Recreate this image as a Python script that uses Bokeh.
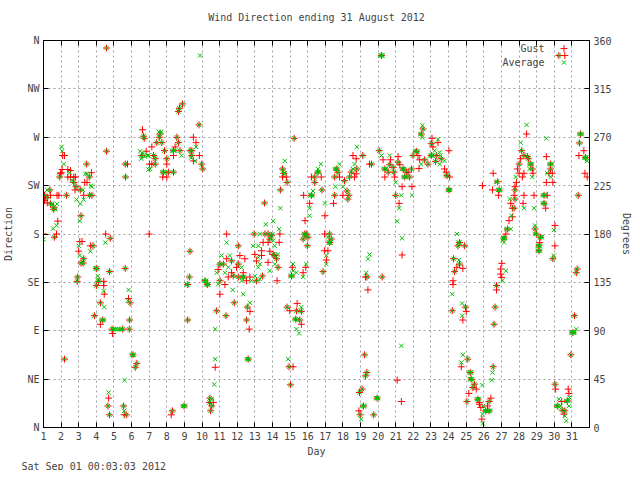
from bokeh.plotting import figure
from bokeh.models import LinearAxis, FixedTicker, Range1d, ColumnDataSource, Label, Title
from bokeh.embed import file_html
from bokeh.resources import INLINE

# ---- data: [day, direction in degrees] ----
# readings where gust and average overlap
both_pts = [
    [4.58, 353], [6.68, 271], [6.72, 269], [6.58, 253], [4.58, 257], [3.45, 245], [5.64, 245], [5.66, 233],
    [1.92, 233], [2.72, 228], [2.85, 224], [3.60, 233], [3.62, 216], [3.75, 216], [3.09, 221], [1.36, 221],
    [1.06, 216], [1.21, 214], [2.30, 216], [1.40, 208], [1.58, 205], [1.58, 203], [3.13, 197], [1.62, 177],
    [4.79, 176], [3.81, 169], [3.28, 157], [3.13, 153], [3.25, 153], [4.0, 148], [5.64, 148], [4.75, 145],
    [2.94, 140], [2.91, 136], [4.13, 136], [4.0, 132], [5.92, 116], [4.23, 116], [3.89, 104], [4.36, 100],
    [4.89, 91.5], [5.5, 91.5], [5.89, 100], [5.87, 91.5], [2.19, 63.6], [6.08, 67.6], [6.30, 59.6], [6.21, 56],
    [4.66, 20], [5.55, 20], [5.70, 11.8], [4.75, 11.8],
    [8.89, 301], [8.72, 297], [8.66, 294], [9.83, 281.5], [7.62, 273], [7.58, 270], [7.43, 265], [7.72, 265],
    [8.57, 270], [8.66, 265], [9.42, 257.5], [9.32, 257.5], [9.42, 253], [9.98, 245], [10.04, 240.5], [7.87, 257.5],
    [8.38, 257.5], [8.75, 257.5], [8.0, 250], [7.25, 253], [7.34, 250], [7.34, 245], [7.81, 237.5], [8.09, 237.5],
    [8.38, 237.5], [12.96, 180], [12.06, 169], [9.32, 164], [11.68, 155], [12.06, 152], [11.02, 152], [11.21, 152],
    [11.77, 141], [12.06, 140], [12.34, 140], [11.02, 136.5], [13.09, 136.5], [9.28, 140], [9.19, 133], [10.17, 136.5],
    [10.30, 133], [11.83, 116], [12.57, 112], [10.83, 108.6], [11.36, 104], [12.53, 100], [9.19, 100], [12.62, 63.6],
    [10.45, 27.3], [10.42, 23.3], [10.55, 20], [10.49, 15.5], [8.98, 20], [8.32, 15.5],
    [15.23, 269], [19.13, 253], [18.79, 240.5], [18.47, 237.5], [18.38, 233], [18.09, 229.6], [18.23, 220], [18.34, 216],
    [18.28, 212.5], [17.72, 237.5], [17.62, 240.5], [17.53, 233], [17.53, 216], [14.57, 240.5], [14.64, 236.5], [14.83, 228],
    [16.58, 237.5], [16.40, 233], [16.40, 228], [16.81, 221], [16.21, 216], [14.45, 221], [13.55, 208.8], [13.57, 180],
    [13.75, 180], [13.94, 178.4], [13.85, 175.3], [14.04, 161], [14.13, 160], [14.23, 157], [14.32, 149], [13.43, 141],
    [15.83, 180], [16.02, 177], [15.92, 180], [15.98, 169], [15.74, 175.3], [15.08, 141], [17.25, 180], [17.34, 175.3],
    [17.25, 172], [16.87, 145], [19.36, 140], [14.83, 112], [15.36, 108.6], [15.64, 108], [15.32, 100.8], [15.55, 100],
    [14.94, 56.5], [15.02, 39.7], [19.23, 67.6], [19.36, 51.2], [19.28, 48], [19.09, 35.7], [18.94, 32.6], [19.17, 20],
    [18.98, 11.8],
    [20.19, 346], [22.55, 277.7], [22.45, 273], [23.02, 264], [23.02, 253], [23.30, 253], [23.58, 250], [23.26, 247.6],
    [23.91, 234.3], [24.02, 221], [22.83, 245], [22.64, 249], [22.17, 256.9], [21.98, 253], [20.06, 257.5], [21.13, 246.8],
    [20.66, 244.5], [20.38, 240.5], [20.57, 237.5], [20.85, 242], [20.89, 237.5], [21.42, 240.5], [21.60, 237.5], [21.51, 233],
    [21.79, 233], [21.89, 240.5], [21.0, 216], [19.62, 245], [20.23, 140], [24.62, 172], [24.53, 169], [24.91, 169],
    [24.28, 157], [24.34, 145], [24.62, 152], [24.21, 108.6], [24.96, 112], [25.09, 63.6], [25.23, 51.2], [25.28, 45],
    [25.47, 40.3], [25.38, 37.2], [25.04, 24.2], [25.66, 26.4], [19.94, 27.3], [19.75, 11.8],
    [30.26, 346], [28.15, 257.5], [28.28, 253], [28.47, 252], [28.53, 250], [28.66, 245], [28.75, 240.5], [28.0, 245],
    [27.77, 221], [27.77, 212.5], [29.79, 245], [29.79, 240.5], [31.49, 273], [31.43, 264.7], [31.77, 251], [31.36, 216],
    [26.77, 228.6], [26.87, 221], [29.42, 216], [29.42, 208.5], [27.72, 204], [27.34, 184.6], [27.15, 176.3], [26.72, 132],
    [26.64, 112], [26.58, 96], [28.91, 184.6], [28.98, 180], [29.23, 177], [29.13, 169], [29.13, 164.4], [29.92, 157],
    [31.30, 147.4], [31.25, 144], [31.15, 104], [31.06, 88.4], [30.94, 67.6], [26.53, 56.5], [26.30, 24.2], [26.11, 15.5],
    [26.30, 15.5], [30.04, 40.3], [30.17, 20], [30.45, 16.1], [30.60, 15.5], [30.74, 24.8],
]

# gust-only readings
gust_pts = [
    [6.62, 277], [6.83, 257], [7.02, 245], [5.77, 245], [2.09, 253], [2.19, 253], [2.06, 240], [2.0, 237],
    [1.96, 236], [2.38, 240], [2.53, 239], [2.38, 233], [2.53, 233], [2.72, 233], [2.81, 233], [2.79, 221],
    [3.72, 237], [3.47, 228], [3.34, 228], [3.28, 216], [1.40, 216], [1.77, 216], [1.87, 216], [1.21, 209],
    [1.11, 214], [1.06, 211], [1.81, 192], [1.74, 180], [1.0, 180], [4.53, 180], [7.0, 180], [3.06, 173],
    [3.19, 173], [3.0, 164], [3.66, 169], [4.42, 136], [4.42, 132], [4.45, 124], [5.83, 120], [4.23, 96],
    [4.92, 87.5], [4.70, 27.3], [5.58, 11.8],
    [8.47, 261], [9.51, 270], [9.66, 265], [9.85, 253], [9.51, 248], [8.38, 253], [8.0, 245], [7.15, 261],
    [7.15, 245], [7.77, 233], [8.0, 233], [11.40, 180], [12.15, 160], [12.43, 157], [11.40, 157], [11.96, 149],
    [10.92, 147], [11.68, 144], [12.34, 144], [11.49, 140], [12.72, 140], [11.30, 133], [12.53, 136.5], [13.0, 161],
    [13.09, 155], [11.02, 124], [12.72, 108], [12.68, 91.5], [10.75, 56], [10.64, 23.3], [8.25, 11.8],
    [18.57, 253], [18.75, 250], [18.75, 236], [18.66, 233], [18.0, 216], [17.81, 233], [19.51, 245], [14.57, 233],
    [14.79, 233], [16.21, 233], [16.77, 233], [15.77, 216], [16.11, 208.5], [17.47, 208.5], [16.98, 197], [15.85, 192.4],
    [13.47, 172.2], [13.75, 172.2], [14.42, 180], [14.38, 172.2], [13.38, 164.4], [13.38, 160], [13.85, 164], [13.75, 153.6],
    [14.26, 136.5], [16.96, 180], [16.96, 164.4], [17.15, 164.4], [17.06, 155.8], [19.28, 140], [19.42, 128], [14.98, 108.6],
    [15.40, 115.4], [15.64, 96], [15.17, 56.5], [18.91, 15.5], [15.13, 149], [15.74, 144], [15.89, 149],
    [23.06, 269], [23.40, 265], [23.11, 261], [24.02, 257.5], [23.77, 240.5], [23.87, 237.5], [24.06, 233], [22.26, 253],
    [22.36, 249], [22.32, 241], [20.28, 249], [20.70, 249], [21.13, 252], [21.23, 244.5], [20.38, 233], [20.94, 233],
    [21.70, 237.5], [21.36, 224], [21.92, 224], [21.19, 208.5], [21.36, 160.5], [24.47, 149], [24.81, 148], [24.25, 136.5],
    [24.25, 133], [25.0, 108], [24.81, 100], [24.72, 56.5], [25.15, 31.7], [25.57, 35.7], [25.75, 21.7], [21.08, 44],
    [21.32, 24.2],
    [30.60, 346], [28.43, 273], [28.09, 250], [28.79, 236.5], [27.91, 240.5], [28.0, 236.5], [28.28, 236.5], [28.19, 233],
    [27.85, 228], [27.77, 224], [27.72, 216], [29.55, 252], [29.70, 236.5], [29.89, 236.5], [29.92, 228], [29.55, 228],
    [31.68, 257.5], [31.40, 253], [31.74, 236.5], [31.87, 233], [26.53, 236.5], [26.83, 216], [26.49, 221], [25.92, 225],
    [28.85, 216], [28.28, 216], [28.23, 208.5], [29.60, 216], [29.51, 204], [27.53, 208.5], [27.62, 204], [27.43, 192.4],
    [27.62, 196], [27.25, 180], [27.02, 152.7], [26.96, 147.4], [26.96, 142.7], [27.02, 139.6], [26.72, 128], [29.17, 172],
    [30.04, 188], [30.04, 169], [26.40, 27.3], [26.21, 20], [25.89, 7.8], [25.83, 18.6], [25.74, 23.3], [30.08, 35.7],
    [30.42, 24.2], [30.79, 35.7], [30.83, 31.7], [30.55, 12.4],
]

# average-only readings
avg_pts = [
    [6.49, 257], [6.55, 250], [6.65, 255], [6.75, 252], [6.9, 253], [6.96, 253], [6.96, 240], [2.02, 261],
    [2.06, 257], [2.15, 245], [2.49, 237], [2.62, 230], [3.38, 236], [3.47, 236], [3.75, 224], [3.70, 225],
    [3.23, 221], [2.87, 212], [3.09, 208], [3.28, 212], [1.21, 221], [1.49, 208], [1.77, 208], [1.68, 203],
    [3.06, 192], [1.74, 188], [1.55, 185], [1.0, 175], [4.51, 172], [3.0, 169], [3.06, 160], [3.66, 164],
    [3.95, 148], [4.05, 148], [4.08, 141], [4.08, 137], [4.18, 137], [4.42, 127], [5.83, 128], [5.79, 118],
    [4.45, 112], [4.30, 100], [4.42, 100], [5.0, 91.5], [5.1, 91.5], [5.2, 91.5], [5.3, 91.5], [5.4, 91.5],
    [6.02, 67.6], [6.12, 67.6], [5.60, 44], [4.70, 32.6], [5.58, 15.5],
    [7.55, 275], [7.68, 275], [8.30, 257.5], [8.46, 257.5], [9.38, 251], [7.75, 237.5], [7.88, 237.5], [10.10, 136.5],
    [10.24, 136.5], [10.24, 133], [10.36, 133], [9.12, 133], [11.0, 152], [12.28, 140], [12.40, 140], [12.56, 63.6],
    [12.68, 63.6], [8.92, 20], [9.06, 20],
    [9.89, 346], [9.66, 261], [9.60, 248], [8.85, 253], [7.06, 240.5], [11.40, 172], [12.9, 169], [13.2, 169],
    [11.11, 160], [11.58, 160], [11.49, 149], [12.25, 149], [10.83, 144], [11.30, 144], [12.25, 136.5], [12.81, 136.5],
    [10.92, 133.4], [13.0, 141], [13.19, 158], [13.19, 149], [11.74, 128], [12.34, 124], [12.72, 116], [10.75, 91.5],
    [10.75, 63.6], [10.70, 40], [10.55, 26.4],
    [14.60, 238], [14.70, 236.5], [16.52, 237.5], [16.64, 237.5], [17.56, 240.5], [17.68, 240.5], [16.15, 216], [16.27, 216],
    [13.90, 178], [14.0, 180], [15.78, 180], [15.88, 178], [17.2, 172], [17.3, 172], [15.02, 141], [15.14, 141],
    [15.26, 100.8], [15.40, 100], [19.11, 20], [19.23, 20],
    [18.79, 261], [18.66, 245], [18.57, 240.5], [18.0, 224], [17.81, 245], [17.58, 224], [14.70, 248], [16.74, 245],
    [16.58, 240.5], [16.30, 220], [16.98, 208.5], [16.11, 204], [16.11, 197], [14.45, 204], [13.62, 189], [14.04, 192],
    [14.38, 184.6], [13.28, 180], [14.04, 173.8], [14.13, 169], [14.32, 161], [14.13, 152], [13.85, 145.8], [13.28, 152],
    [13.28, 138], [15.17, 152], [15.36, 144], [15.17, 145.8], [15.92, 152], [15.74, 140], [17.15, 177], [17.06, 160],
    [17.06, 152], [19.51, 161], [19.42, 157], [19.32, 144], [15.64, 112], [15.36, 91.5], [15.51, 87.5], [14.89, 63.6],
    [19.04, 7.8],
    [20.12, 346], [20.26, 346], [22.40, 273], [22.11, 256.9], [22.23, 256.9], [22.96, 253], [23.08, 253], [23.85, 234.3],
    [23.97, 221], [24.08, 221], [20.32, 240.5], [20.44, 240.5], [21.36, 240.5], [21.48, 240.5], [21.45, 233], [21.57, 233],
    [24.56, 172], [25.17, 51.2], [25.28, 51.2], [25.22, 45], [25.34, 45], [25.60, 26.4], [25.72, 26.4], [19.88, 27.3],
    [20.0, 27.3],
    [22.51, 281], [22.51, 270], [23.40, 268], [23.21, 257.5], [23.49, 256], [23.53, 253], [23.77, 248], [23.49, 245],
    [22.45, 245], [21.0, 228], [21.32, 216], [21.19, 204], [21.92, 216], [20.19, 253], [20.66, 253], [21.08, 191.8],
    [21.36, 176], [24.47, 180], [24.58, 155.8], [24.21, 124], [24.77, 115.4], [24.77, 104], [21.32, 76], [24.81, 67.6],
    [24.72, 60.5],
    [31.43, 273], [31.55, 273], [31.71, 251], [31.83, 251], [28.60, 245], [28.72, 245], [29.73, 245], [29.85, 245],
    [26.71, 228.6], [26.81, 221], [26.93, 221], [29.36, 216], [29.48, 216], [29.36, 208.5], [29.48, 208.5], [27.28, 184.6],
    [27.09, 176.3], [27.21, 176.3], [28.92, 180], [29.17, 177], [29.29, 177], [29.07, 169], [29.19, 169], [29.07, 164.4],
    [29.19, 164.4], [30.96, 88.4], [31.02, 88.4], [31.10, 88.4], [31.16, 88.4], [26.05, 15.5], [26.24, 15.5], [26.36, 15.5],
    [30.11, 20], [30.23, 20], [30.68, 24.8], [30.80, 24.8],
    [28.43, 281.5], [28.09, 265], [28.60, 240.5], [28.75, 233], [27.81, 233], [29.55, 269], [29.60, 236.5], [29.79, 233],
    [31.87, 248], [28.28, 204], [28.85, 204], [27.47, 212.5], [27.57, 197], [27.53, 184.6], [27.06, 173.8], [27.15, 172.2],
    [27.25, 145.8], [27.06, 136.5], [28.91, 188], [29.98, 183.7], [29.98, 160], [31.25, 91.5], [26.49, 51.2], [26.45, 44],
    [25.92, 39.4], [25.92, 12.4], [25.96, 20], [30.26, 26.4], [30.36, 20], [30.60, 10.9], [30.68, 6.2], [30.87, 27.9],
    [30.83, 20], [25.95, 3.7],
]

day_ticks = list(range(1, 32))
dir_ticks = [0, 45, 90, 135, 180, 225, 270, 315, 360]
dir_labels = ["N", "NE", "E", "SE", "S", "SW", "W", "NW", "N"]
key_labels = ["Gust", "Average"]
footer_text = "Sat Sep 01 00:03:03 2012"

gust = both_pts + gust_pts
avg = both_pts + avg_pts
gust_src = ColumnDataSource(dict(day=[d for d, _ in gust], deg=[v for _, v in gust]))
avg_src = ColumnDataSource(dict(day=[d for d, _ in avg], deg=[v for _, v in avg]))

FONT = "DejaVu Sans Mono"
FS = "10px"

p = figure(frame_width=546, frame_height=387, x_range=Range1d(1, 32), y_range=Range1d(0, 360),
           output_backend="svg", toolbar_location=None,
           min_border_left=0, min_border_right=0, min_border_top=0, min_border_bottom=0)
p.title.text = "Wind Direction ending 31 August 2012"
p.title.text_font = FONT
p.title.text_font_size = FS
p.title.text_font_style = "normal"
p.title.align = "center"
p.title.standoff = 19
p.title.offset = 9
p.outline_line_color = "black"
p.outline_line_width = 1
p.background_fill_color = "white"
p.border_fill_color = "white"

def style_axis(ax, label):
    ax.axis_label = label
    ax.axis_label_text_font = FONT
    ax.axis_label_text_font_size = FS
    ax.axis_label_text_font_style = "normal"
    ax.major_label_text_font = FONT
    ax.major_label_text_font_size = FS
    ax.major_tick_in = 5
    ax.major_tick_out = 0
    ax.minor_tick_in = 0
    ax.minor_tick_out = 0
    ax.axis_line_color = "black"
    ax.major_tick_line_color = "black"
    ax.major_label_standoff = 4
    ax.axis_label_standoff = 6

xax = p.xaxis[0]
xax.ticker = FixedTicker(ticks=day_ticks)
style_axis(xax, "Day")
xax.major_label_standoff = 4
xax.axis_label_standoff = 3

yax = p.yaxis[0]
yax.ticker = FixedTicker(ticks=dir_ticks)
yax.major_label_overrides = {t: l for t, l in zip(dir_ticks, dir_labels)}
style_axis(yax, "Direction")
yax.axis_label_standoff = 10
yax.major_label_orientation = "horizontal"

rax = LinearAxis(ticker=FixedTicker(ticks=dir_ticks))
style_axis(rax, "Degrees")
p.add_layout(rax, "right")

# top border ticks (mirror of the day ticks, no labels)
tax = LinearAxis(ticker=FixedTicker(ticks=day_ticks))
style_axis(tax, None)
tax.major_label_overrides = {d: "" for d in day_ticks}
tax.major_label_standoff = 0
p.add_layout(tax, "above")

# spacer between the top border and the title (ticks are effectively invisible)
sax = LinearAxis(ticker=FixedTicker(ticks=day_ticks))
sax.axis_label = None
sax.major_label_overrides = {d: "" for d in day_ticks}
sax.major_label_standoff = 0
sax.major_tick_in = 0
sax.major_tick_out = 8
sax.minor_tick_in = 0
sax.minor_tick_out = 0
sax.axis_line_alpha = 0
sax.major_tick_line_color = "white"
sax.major_tick_line_alpha = 0.01
p.add_layout(sax, "above")

p.xgrid.ticker = FixedTicker(ticks=day_ticks)
p.ygrid.ticker = FixedTicker(ticks=dir_ticks)
for g in (p.xgrid, p.ygrid):
    g.grid_line_color = "#a0a0a0"
    g.grid_line_dash = "2 3"
    g.grid_line_width = 1

p.scatter("day", "deg", source=gust_src, marker="cross", size=7, line_color="#ff0000", line_width=1)
p.scatter("day", "deg", source=avg_src, marker="x", size=6, line_color="#00c000", line_width=1)

# timestamp under the plot
footer = Title(text=footer_text, align="left", text_font=FONT, text_font_size=FS,
               text_font_style="normal", offset=-22, standoff=-2)
p.add_layout(footer, "below")

# gnuplot-style key
p.add_layout(Label(x=29.45, y=352.5, text=key_labels[0], text_font=FONT, text_font_size=FS,
                   text_align="right", text_baseline="middle"))
p.add_layout(Label(x=29.45, y=339.5, text=key_labels[1], text_font=FONT, text_font_size=FS,
                   text_align="right", text_baseline="middle"))
p.scatter(x=[30.55], y=[352.5], marker="cross", size=7, line_color="#ff0000")
p.scatter(x=[30.55], y=[339.5], marker="x", size=6, line_color="#00c000")

open("out.html", "w").write(file_html(p, INLINE))
